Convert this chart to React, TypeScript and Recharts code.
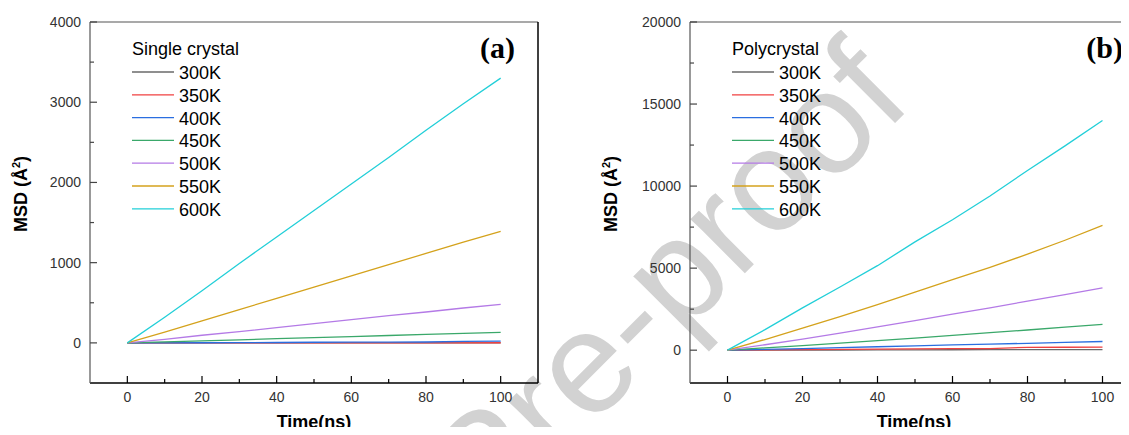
import { LineChart, Line, XAxis, YAxis, ReferenceLine } from "recharts"

// Sampling times (ns)
const times = [0, 10, 20, 30, 40, 50, 60, 70, 80, 90, 100]

const temps = ["300K", "350K", "400K", "450K", "500K", "550K", "600K"]
const colors = ["#6a6a6a", "#f04040", "#2a6ee0", "#3aa86a", "#b47ae6", "#d4a21c", "#22cfd8"]

// MSD (Å^2) for the single crystal
const single300 = [0, 0, 0, 0, 0, 0, 0, 0, 0, 0, 0]
const single350 = [0, 0, 0, 0, 0, 0, 0, 0, 0, 1, 2]
const single400 = [0, 1, 2, 3, 5, 8, 9, 10, 11, 20, 22]
const single450 = [0, 12, 25, 38, 52, 65, 78, 92, 105, 118, 130]
const single500 = [0, 45, 95, 140, 190, 240, 290, 340, 385, 435, 480]
const single550 = [0, 135, 275, 415, 555, 695, 835, 975, 1115, 1255, 1390]
const single600 = [0, 320, 650, 990, 1320, 1650, 1980, 2310, 2650, 2980, 3300]

// MSD (Å^2) for the polycrystal
const poly300 = [0, 5, 10, 12, 15, 20, 25, 28, 32, 36, 40]
const poly350 = [0, 20, 40, 50, 70, 80, 90, 100, 175, 180, 185]
const poly400 = [0, 50, 100, 150, 210, 260, 320, 370, 420, 480, 530]
const poly450 = [0, 140, 280, 430, 580, 740, 900, 1070, 1230, 1400, 1570]
const poly500 = [0, 330, 680, 1040, 1420, 1800, 2200, 2580, 2990, 3390, 3800]
const poly550 = [0, 650, 1350, 2050, 2780, 3540, 4300, 5050, 5850, 6700, 7600]
const poly600 = [0, 1250, 2580, 3850, 5150, 6600, 7950, 9400, 10950, 12450, 14000]

const xTicks = [0, 10, 20, 30, 40, 50, 60, 70, 80, 90, 100]
const singleYTicks = [0, 500, 1000, 1500, 2000, 2500, 3000, 3500, 4000]
const polyYTicks = [0, 2500, 5000, 7500, 10000, 12500, 15000, 17500, 20000]

const singleSeries = [single300, single350, single400, single450, single500, single550, single600]
const polySeries = [poly300, poly350, poly400, poly450, poly500, poly550, poly600]

const toRows = (series: number[][]) =>
  times.map((t, i) => {
    const row: Record<string, number> = { t }
    temps.forEach((name, k) => {
      row[name] = series[k][i]
    })
    return row
  })

const sans = "'Liberation Sans', Arial, sans-serif"
const serif = "'Liberation Serif', 'Times New Roman', serif"

// inward tick marks, labels every other tick
const XTick = ({ x, y, payload }: any) => {
  const major = payload.value % 20 === 0
  return (
    <g>
      <line x1={x} x2={x} y1={y} y2={y - (major ? 7 : 4)} stroke="#000" strokeWidth={1.2} />
      {major && (
        <text x={x} y={y + 19} textAnchor="middle" fontSize={14} fontFamily={sans} fill="#333">
          {payload.value}
        </text>
      )}
    </g>
  )
}

const makeYTick = (step: number) => ({ x, y, payload }: any) => {
  const major = payload.value % step === 0
  return (
    <g>
      <line x1={x} x2={x + (major ? 7 : 4)} y1={y} y2={y} stroke="#444" strokeWidth={1.2} />
      {major && (
        <text x={x - 9} y={y + 5} textAnchor="end" fontSize={14} fontFamily={sans} fill="#333">
          {payload.value}
        </text>
      )}
    </g>
  )
}

interface PanelProps {
  rows: Record<string, number>[]
  yDomain: [number, number]
  yTicks: number[]
  majorStep: number
  width: number
  left: number
}

function Panel({ rows, yDomain, yTicks, majorStep, width, left }: PanelProps) {
  return (
    <div style={{ position: "absolute", left, top: 0 }}>
      <LineChart width={width} height={435} data={rows} margin={{ top: 22, right: 10, bottom: 22, left: 30 }}>
        <XAxis
          dataKey="t"
          type="number"
          domain={[-10, 110]}
          ticks={xTicks}
          interval={0}
          height={30}
          tickSize={0}
          tickMargin={0}
          tickLine={false}
          tick={XTick}
          axisLine={{ stroke: "#000", strokeWidth: 1.5 }}
        />
        <YAxis
          type="number"
          domain={yDomain}
          ticks={yTicks}
          interval={0}
          width={60}
          tickSize={0}
          tickMargin={0}
          tickLine={false}
          tick={makeYTick(majorStep)}
          axisLine={{ stroke: "#555", strokeWidth: 1.2 }}
        />
        <ReferenceLine y={yDomain[1]} stroke="#555" strokeWidth={1.2} />
        <ReferenceLine x={110} stroke="#000" strokeWidth={1.5} />
        {temps.map((name, k) => (
          <Line
            key={name}
            dataKey={name}
            type="linear"
            stroke={colors[k]}
            strokeWidth={1.3}
            dot={false}
            isAnimationActive={false}
          />
        ))}
      </LineChart>
    </div>
  )
}

function LegendBlock({ x, title }: { x: number; title: string }) {
  return (
    <g fontFamily={sans} fontSize={18} fill="#000">
      <text x={x} y={55}>{title}</text>
      {temps.map((name, k) => {
        const base = 79 + k * 22.8
        return (
          <g key={name}>
            <line x1={x} x2={x + 42} y1={base - 7} y2={base - 7} stroke={colors[k]} strokeWidth={1.3} />
            <text x={x + 47} y={base}>{name}</text>
          </g>
        )
      })}
    </g>
  )
}

function AxisTitles({ cx, yx }: { cx: number; yx: number }) {
  return (
    <g fontFamily={sans} fontWeight="bold" fontSize={18} fill="#000">
      <text x={cx} y={428} textAnchor="middle">Time(ns)</text>
      <text transform={`translate(${yx},194) rotate(-90)`} textAnchor="middle">
        MSD (Å<tspan dy={-7} fontSize={11}>2</tspan>
        <tspan dy={7}>)</tspan>
      </text>
    </g>
  )
}

export default function App() {
  const singleRows = toRows(singleSeries)
  const polyRows = toRows(polySeries)

  return (
    <div style={{ position: "relative", width: 1129, height: 435, margin: -8, overflow: "hidden", background: "#fff" }}>
      {/* watermark behind everything */}
      <svg width={1129} height={435} style={{ position: "absolute", left: 0, top: 0 }}>
        <text transform="translate(487,531) rotate(-45)" fontFamily={sans} fontSize={145} fill="#d2d2d2">
          Pre-proof
        </text>
      </svg>

      <Panel rows={singleRows} yDomain={[-500, 4000]} yTicks={singleYTicks} majorStep={1000} width={548} left={0} />
      <Panel rows={polyRows} yDomain={[-2000, 20000]} yTicks={polyYTicks} majorStep={5000} width={550} left={600} />

      <svg width={1129} height={435} style={{ position: "absolute", left: 0, top: 0, pointerEvents: "none" }}>
        <LegendBlock x={132} title="Single crystal" />
        <LegendBlock x={732} title="Polycrystal" />
        <AxisTitles cx={314} yx={27} />
        <AxisTitles cx={914} yx={617} />
        <text x={515} y={58} textAnchor="end" fontFamily={serif} fontWeight="bold" fontSize={30}>(a)</text>
        <text x={1123} y={58} textAnchor="end" fontFamily={serif} fontWeight="bold" fontSize={30}>(b)</text>
      </svg>
    </div>
  )
}
